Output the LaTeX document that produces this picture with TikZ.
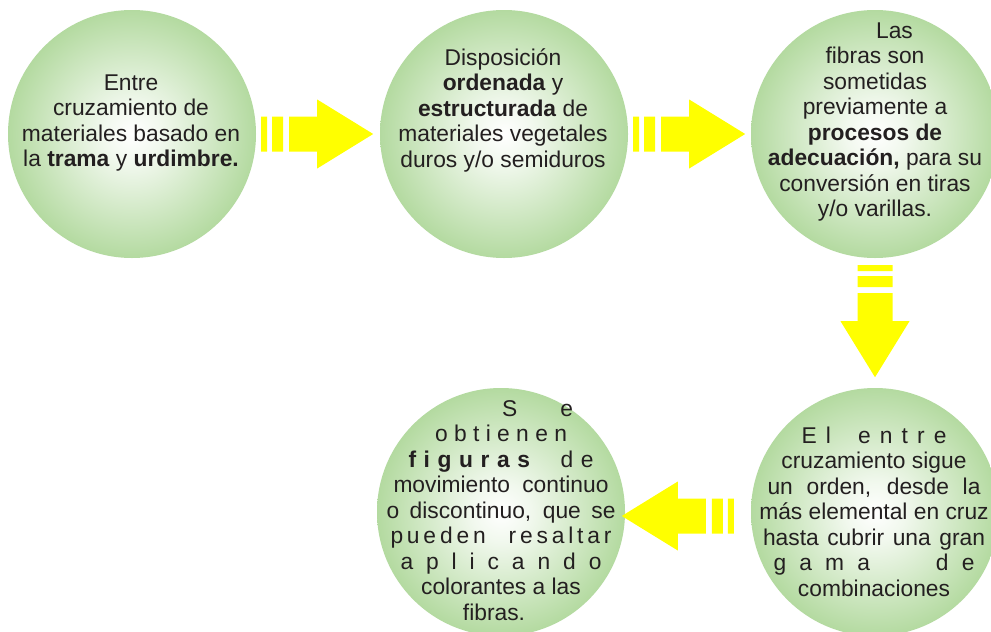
\documentclass[tikz,border=0pt]{standalone}
\usepackage{fontspec}
\setmainfont{Liberation Sans}
\usepackage{xcolor}
\usepackage{tikz}
\usetikzlibrary{calc}
\definecolor{ballgreen}{HTML}{8BC66D}
\definecolor{arrowyellow}{HTML}{FFFF00}
\definecolor{ink}{HTML}{231F20}
\pgfdeclareradialshading{ballglow}{\pgfpoint{0bp}{0bp}}{color(0bp)=(white); color(6bp)=(ballgreen!12); color(25bp)=(ballgreen!65); color(40bp)=(ballgreen); color(50bp)=(ballgreen)}
\newcommand{\spreadto}[2]{\hbox to #1pt{#2}}
\newcommand{\lgap}[1]{\hspace{0pt plus #1fill}}

\begin{document}
\begin{tikzpicture}[x=1pt,y=-1pt,
  ball/.style={circle,minimum size=248pt,inner sep=0pt,shade,shading=ballglow},
  txt/.style={anchor=north,align=center,inner sep=0pt,text=ink,font=\fontsize{22.8}{25.5}\selectfont},
  yarrow/.pic={\fill[arrowyellow] (0,-17.5) rectangle (6,17.5) (11,-17.5) rectangle (22,17.5)
    (28,-17.5) -- (56,-17.5) -- (56,-34.5) -- (112,0) -- (56,34.5) -- (56,17.5) -- (28,17.5) -- cycle;}]
\path[use as bounding box,fill=white] (0,0) rectangle (991,632);
\clip (0,0) rectangle (991,632);
% top row
\node[ball] (c1) at (132,134) {};
\node[ball] (c2) at (504,134) {};
\node[ball] (c3) at (875,134) {};
% bottom row
\node[ball] (c4) at (875,512) {};
\node[ball] (c5) at (501,512) {};
% arrows
\pic at ($(c1.east)+(5,0)$) {yarrow};
\pic at ($(c2.east)+(5,0)$) {yarrow};
\pic[rotate=-90] at ($(c3.south)+(0,7)$) {yarrow};
\pic[rotate=180] at ($(c4.west)+(-17,4)$) {yarrow};
% texts
\node[txt] (t1) at (131,72) {\strut Entre\\cruzamiento de\\materiales basado en\\la \textbf{trama} y \textbf{urdimbre.}};
\node[txt] (t2) at (503,47) {\strut Disposición\\\textbf{ordenada} y\\\textbf{estructurada} de\\materiales vegetales\\duros y/o semiduros};
\node[txt] (t3) at (875,20) {\strut\hspace*{39pt}Las\\fibras son\\sometidas\\previamente a\\\textbf{procesos de}\\\textbf{adecuación,} para su\\conversión en tiras\\y/o varillas.};
\node[txt] (t4) at (874,425) {\strut\spreadto{145}{E\hfill l\lgap{3}e\hfill n\hfill t\hfill r\hfill e}\\
  cruzamiento sigue\\
  \spreadto{213}{un orden, desde la}\\
  más elemental en cruz\\
  \spreadto{222}{hasta cubrir una gran}\\
  \spreadto{201}{g\hfill a\hfill m\hfill a\lgap{5}d\hfill e}\\
  combinaciones};
\node[txt] (t5) at (501,398) {\strut\hspace*{73pt}\spreadto{71}{S\hfill e}\\
  \spreadto{132}{o\hfill b\hfill t\hfill i\hfill e\hfill n\hfill e\hfill n}\\
  \spreadto{185}{\textbf{f\hfill i\hfill g\hfill u\hfill r\hfill a\hfill s}\lgap{4}d\hfill e}\\
  \spreadto{215}{movimiento continuo}\\
  \spreadto{229}{o discontinuo, que se}\\
  \spreadto{221}{p\hfill u\hfill e\hfill d\hfill e\hfill n\lgap{6}r\hfill e\hfill s\hfill a\hfill l\hfill t\hfill a\hfill r}\\
  \spreadto{201}{a\hfill p\hfill l\hfill i\hfill c\hfill a\hfill n\hfill d\hfill o}\\
  colorantes a las\\
  \hspace*{-14pt}fibras.};
\end{tikzpicture}
\end{document}
